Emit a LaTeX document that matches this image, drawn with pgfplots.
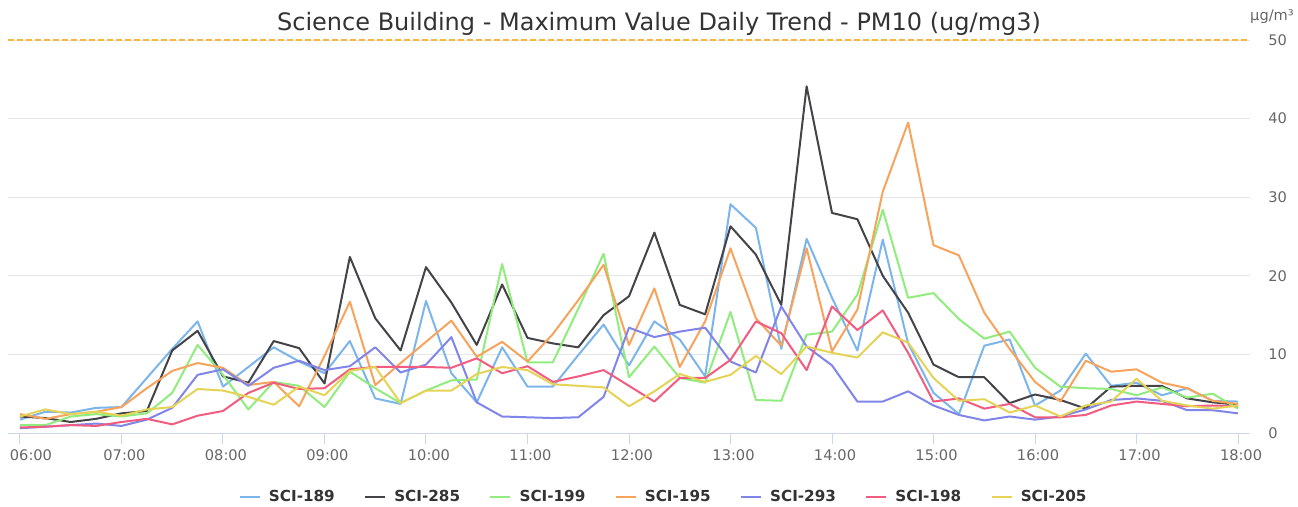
\documentclass[border=0pt]{standalone}
\usepackage{fontspec}
\setmainfont{DejaVu Sans}
\usepackage{pgfplots}
\usepackage{pgfplotstable}
\pgfplotsset{compat=1.18}

\definecolor{c189}{HTML}{7CB5EC}
\definecolor{c285}{HTML}{434348}
\definecolor{c199}{HTML}{90ED7D}
\definecolor{c195}{HTML}{F7A35C}
\definecolor{c293}{HTML}{8085E9}
\definecolor{c198}{HTML}{F15C80}
\definecolor{c205}{HTML}{E4D354}
\definecolor{axisline}{HTML}{CCD6EB}
\definecolor{gridc}{HTML}{E6E6E6}
\definecolor{labelc}{HTML}{666666}
\definecolor{titlec}{HTML}{333333}
\definecolor{limitc}{HTML}{F9B63C}

% time in hours, max PM10 per sensor
\pgfplotstableread{
t     s189 s285 s199 s195 s293 s198 s205
6.00  1.7  2.1  1.0  2.4  0.6  0.7  2.1
6.25  2.7  1.9  1.0  1.8  0.8  0.8  3.0
6.50  2.6  1.4  2.1  2.4  1.0  1.0  2.4
6.75  3.2  1.8  2.4  2.7  1.2  0.9  2.7
7.00  3.3  2.5  2.1  3.3  0.9  1.4  2.2
7.25  7.0  2.8  2.5  5.7  1.7  1.8  3.0
7.50  10.7 10.5 5.1  7.9  3.2  1.1  3.3
7.75  14.2 13.0 11.2 8.9  7.4  2.2  5.6
8.00  5.9  7.2  7.4  8.3  8.1  2.8  5.4
8.25  8.4  6.4  3.0  6.1  6.0  5.1  4.6
8.50  10.9 11.7 6.5  6.5  8.3  6.4  3.6
8.75  9.1  10.8 6.0  3.4  9.2  5.6  5.9
9.00  7.6  6.3  3.3  9.8  8.0  5.7  4.8
9.25  11.7 22.4 7.8  16.7 8.5  8.1  7.9
9.50  4.4  14.6 5.7  6.1  10.9 8.4  8.4
9.75  3.7  10.5 3.8  8.9  7.7  8.4  3.8
10.00 16.8 21.1 5.4  11.6 8.7  8.4  5.4
10.25 7.6  16.6 6.7  14.3 12.2 8.3  5.4
10.50 3.9  11.2 6.8  9.7  3.9  9.5  7.5
10.75 10.9 18.9 21.5 11.6 2.1  7.6  8.4
11.00 5.9  12.1 9.0  9.1  2.0  8.5  8.0
11.25 5.9  11.4 9.0  12.6 1.9  6.5  6.2
11.50 9.9  10.9 15.8 16.9 2.0  7.2  6.0
11.75 13.8 15.0 22.8 21.4 4.6  8.0  5.8
12.00 8.6  17.4 7.1  11.2 13.4 6.0  3.4
12.25 14.2 25.5 11.0 18.4 12.2 4.0  5.3
12.50 11.9 16.3 7.0  8.4  12.9 7.0  7.5
12.75 7.2  15.1 6.4  14.2 13.4 7.0  6.5
13.00 29.1 26.3 15.4 23.5 9.1  9.3  7.4
13.25 26.1 22.7 4.2  14.6 7.7  14.2 9.8
13.50 10.7 16.3 4.1  11.1 16.1 12.7 7.5
13.75 24.7 44.1 12.5 23.5 11.0 8.0  11.0
14.00 17.2 28.0 12.9 10.4 8.6  16.1 10.2
14.25 10.5 27.2 17.6 15.7 4.0  13.1 9.6
14.50 24.6 20.0 28.4 30.7 4.0  15.6 12.8
14.75 11.4 15.3 17.2 39.5 5.3  10.2 11.5
15.00 5.1  8.7  17.8 23.9 3.5  4.0  7.0
15.25 2.4  7.1  14.5 22.6 2.3  4.4  4.1
15.50 11.1 7.1  12.0 15.3 1.6  3.1  4.3
15.75 11.9 3.8  12.9 10.7 2.1  3.7  2.6
16.00 3.5  4.9  8.3  6.5  1.7  2.0  3.5
16.25 5.4  4.2  5.9  4.0  2.1  2.0  2.1
16.50 10.1 3.1  5.7  9.2  3.0  2.3  3.5
16.75 6.0  5.9  5.6  7.8  4.2  3.5  4.0
17.00 6.4  6.0  4.8  8.1  4.4  4.0  6.9
17.25 4.8  6.0  5.8  6.4  4.1  3.7  4.1
17.50 5.7  4.4  4.5  5.7  2.9  3.4  3.5
17.75 4.1  3.9  5.0  4.1  2.9  3.5  3.1
18.00 4.0  3.6  3.1  3.7  2.5  3.4  3.5
}\pmdata

\begin{document}
\begin{tikzpicture}
\useasboundingbox (-4bp,-37bp) rectangle (645bp,216.5bp);
\begin{axis}[
    scale only axis,
    width=621bp, height=196.5bp,
    xmin=5.882, xmax=18.118,
    ymin=0, ymax=50,
    axis line style={draw=none},
    xtick={6,...,18},
    xticklabels={\hspace*{8bp}06:00,07:00,08:00,09:00,10:00,11:00,12:00,13:00,14:00,15:00,16:00,17:00,18:00},
    xtick pos=bottom,
    major tick length=5.5bp,
    xtick style={axisline, line width=0.5bp, yshift=-5.5bp},
    xticklabel style={anchor=base, inner sep=0pt, yshift=-13.5bp, xshift=1.5bp},
    ytick={0,10,...,50},
    ytick pos=right,
    yticklabel pos=right,
    ytick style={draw=none},
    yticklabel style={anchor=west, inner sep=0pt, xshift=9bp},
    /pgf/number format/assume math mode=true,
    tick label style={font=\fontsize{7.3bp}{9bp}\selectfont, text=labelc},
    ymajorgrids,
    grid style={gridc, line width=0.5bp},
    clip=false,
    every axis plot/.append style={line width=1bp, line join=round, no markers},
    legend columns=-1,
    legend style={draw=none, fill=none, at={(axis description cs:0.527,-0.163)}, anchor=center,
        font=\fontsize{7.6bp}{9bp}\selectfont\bfseries, text=titlec,
        /tikz/every odd column/.append style={column sep=4bp},
        /tikz/every even column/.append style={column sep=14.5bp},
        nodes={inner sep=0pt}},
    legend image code/.code={\draw[#1, line width=1.25bp] (0bp,0bp) -- (10bp,0bp);},
]
\draw[axisline, line width=0.5bp] (rel axis cs:0,0) -- (rel axis cs:1,0);
\draw[limitc, line width=1bp, dash pattern=on 3bp off 1.5bp] (rel axis cs:0,1) -- (rel axis cs:0.9984,1);
\addplot[c189] table[x=t, y=s189] {\pmdata};
\addplot[c285] table[x=t, y=s285] {\pmdata};
\addplot[c199] table[x=t, y=s199] {\pmdata};
\addplot[c195] table[x=t, y=s195] {\pmdata};
\addplot[c293] table[x=t, y=s293] {\pmdata};
\addplot[c198] table[x=t, y=s198] {\pmdata};
\addplot[c205] table[x=t, y=s205] {\pmdata};
\legend{SCI-189, SCI-285, SCI-199, SCI-195, SCI-293, SCI-198, SCI-205}
\end{axis}
\node[anchor=base, inner sep=0pt, text=titlec, font=\fontsize{12bp}{14bp}\selectfont] at (325.5bp,201bp)
    {Science Building - Maximum Value Daily Trend - PM10 (ug/mg3)};
\node[anchor=center, inner sep=0pt, text=labelc, font=\fontsize{7.3bp}{9bp}\selectfont] at (632bp,208bp) {µg/m³};
\end{tikzpicture}
\end{document}
